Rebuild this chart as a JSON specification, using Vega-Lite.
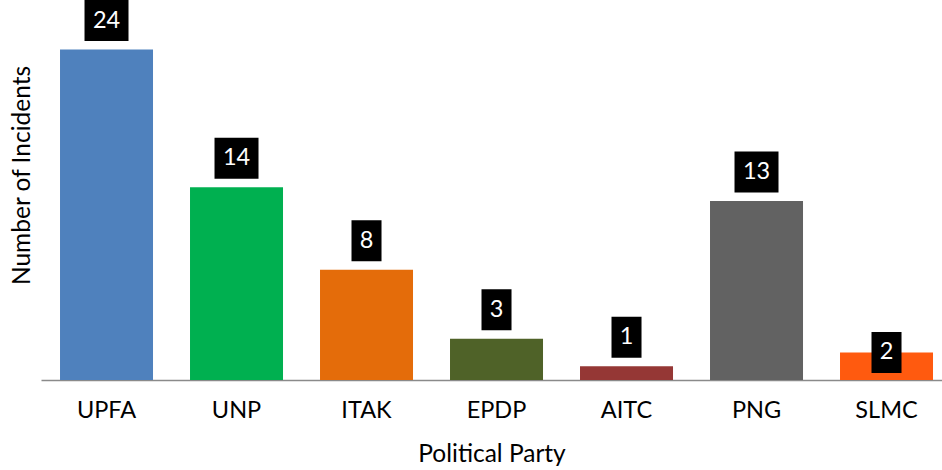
{
  "$schema": "https://vega.github.io/schema/vega-lite/v6.json",
  "width": 901,
  "height": 380,
  "autosize": "none",
  "padding": {"left": 41, "top": 0, "right": 0, "bottom": 90},
  "background": "white",
  "config": {"view": {"stroke": null}, "font": "Lato"},
  "data": {"values": [
    {"party": "UPFA", "n": 24},
    {"party": "UNP", "n": 14},
    {"party": "ITAK", "n": 8},
    {"party": "EPDP", "n": 3},
    {"party": "AITC", "n": 1},
    {"party": "PNG", "n": 13},
    {"party": "SLMC", "n": 2}
  ]},
  "encoding": {
    "x": {"field": "party", "type": "nominal", "sort": null,
      "scale": {"paddingInner": 0.2846, "paddingOuter": 0.1077, "align": 0.679},
      "axis": {"title": "Political Party", "labelAngle": 0, "ticks": false, "tickSize": 0,
        "labelPadding": 30.5, "labelBaseline": "middle", "labelFont": "Lato", "labelFontSize": 23.5, "labelColor": "#000",
        "domainColor": "#8a8a8a", "domainWidth": 1.5,
        "titleFont": "Lato", "titleFontSize": 24.5, "titleFontWeight": "normal", "titleColor": "#000",
        "titlePadding": 20}},
    "y": {"field": "n", "type": "quantitative", "scale": {"domain": [0, 27.6], "nice": false},
      "axis": {"title": "Number of Incidents", "domain": false, "ticks": false, "labels": false, "grid": false,
        "titleFont": "Lato", "titleFontSize": 24.5, "titleFontWeight": "normal", "titleColor": "#000",
        "titleX": -19, "titleY": 175, "titleAngle": -90, "titleAlign": "center", "titleBaseline": "middle"}}
  },
  "layer": [
    {"mark": {"type": "bar"},
     "encoding": {"color": {"field": "party", "type": "nominal", "legend": null,
       "scale": {"domain": ["UPFA", "UNP", "ITAK", "EPDP", "AITC", "PNG", "SLMC"],
                 "range": ["#4F81BD", "#00B050", "#E46C0A", "#4F6228", "#953735", "#626262", "#FF5A0F"]}}}},
    {"mark": {"type": "point", "filled": true, "opacity": 1, "color": "#000", "size": 1681,
       "shape": {"expr": "datum.n >= 10 ? 'M-1.073,-1H1.073V1H-1.073Z' : 'M-0.732,-1H0.732V1H-0.732Z'"},
       "yOffset": {"expr": "datum.party === 'SLMC' ? 0 : -29"}}},
    {"mark": {"type": "text", "color": "white", "font": "Lato", "fontSize": 23.5, "align": "center", "baseline": "middle",
       "dy": {"expr": "datum.party === 'SLMC' ? 0 : -29"}},
     "encoding": {"text": {"field": "n", "type": "quantitative"}}}
  ]
}
